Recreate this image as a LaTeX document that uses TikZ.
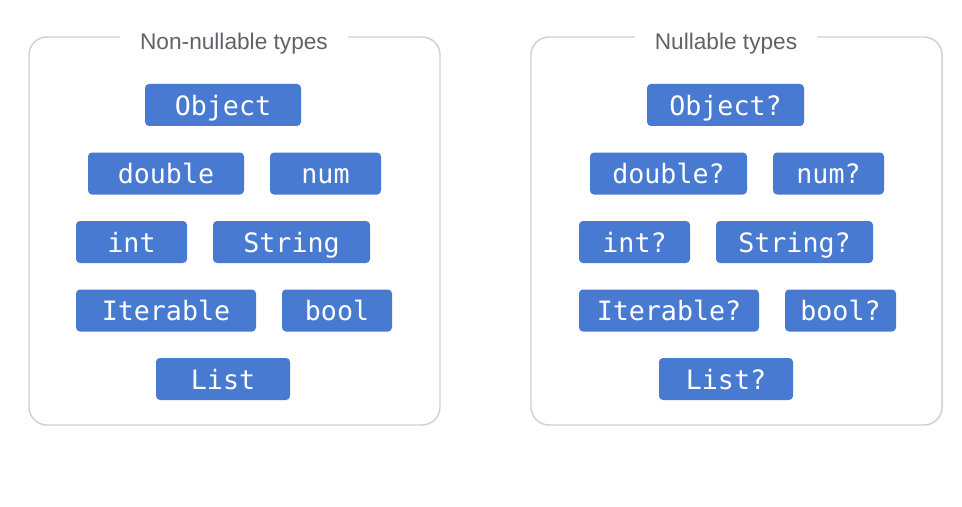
\documentclass[tikz,border=0pt]{standalone}
\usepackage{fontspec}
\setmainfont{Liberation Sans}
\setmonofont{DejaVu Sans Mono}
\usepackage{tikz}
\definecolor{typeblue}{RGB}{73,122,209}
\definecolor{framegray}{RGB}{208,208,208}
\definecolor{titlegray}{RGB}{95,99,104}
\tikzset{
  typebox/.style={fill=typeblue,text=white,rounded corners=3pt,minimum height=31.5pt,
    inner sep=0pt,text height=17pt,text depth=1.5pt,
    font=\ttfamily\fontsize{20}{24}\selectfont},
  panel/.style={draw=framegray,line width=1.1pt,rounded corners=13.5pt},
  paneltitle/.style={fill=white,text=titlegray,inner xsep=15pt,inner ysep=2pt,
    text height=13pt,text depth=1pt,font=\fontsize{17}{20}\selectfont}
}
\begin{document}
\begin{tikzpicture}[x=0.75pt,y=-0.75pt]
\useasboundingbox (0,0) rectangle (962,506);
% left panel
\draw[panel] (29,37) rectangle (440,425);
\node[paneltitle] (nntitle) at (234,42) {Non-nullable types};
\node[typebox,minimum width=117pt] (nnobject) at (223,105) {Object};
\node[typebox,minimum width=117pt] (nndouble) at (166,173.5) {double};
\node[typebox,minimum width=83.25pt] (nnnum) at (325.5,173.5) {num};
\node[typebox,minimum width=83.25pt] (nnint) at (131.5,242) {int};
\node[typebox,minimum width=117.75pt] (nnstring) at (291.5,242) {String};
\node[typebox,minimum width=135pt] (nniterable) at (166,310.5) {Iterable};
\node[typebox,minimum width=82.5pt] (nnbool) at (337,310.5) {bool};
\node[typebox,minimum width=100.5pt] (nnlist) at (223,379) {List};
% right panel
\draw[panel] (531,37) rectangle (942,425);
\node[paneltitle] (ntitle) at (726,42) {Nullable types};
\node[typebox,minimum width=117.75pt] (nobject) at (725.5,105) {Object?};
\node[typebox,minimum width=117.75pt] (ndouble) at (668.5,173.5) {double?};
\node[typebox,minimum width=83.25pt] (nnum) at (828.5,173.5) {num?};
\node[typebox,minimum width=83.25pt] (nint) at (634.5,242) {int?};
\node[typebox,minimum width=117.75pt] (nstring) at (794.5,242) {String?};
\node[typebox,minimum width=135pt] (niterable) at (669,310.5) {Iterable?};
\node[typebox,minimum width=83.25pt] (nbool) at (840.5,310.5) {bool?};
\node[typebox,minimum width=100.5pt] (nlist) at (726,379) {List?};
\end{tikzpicture}
\end{document}
